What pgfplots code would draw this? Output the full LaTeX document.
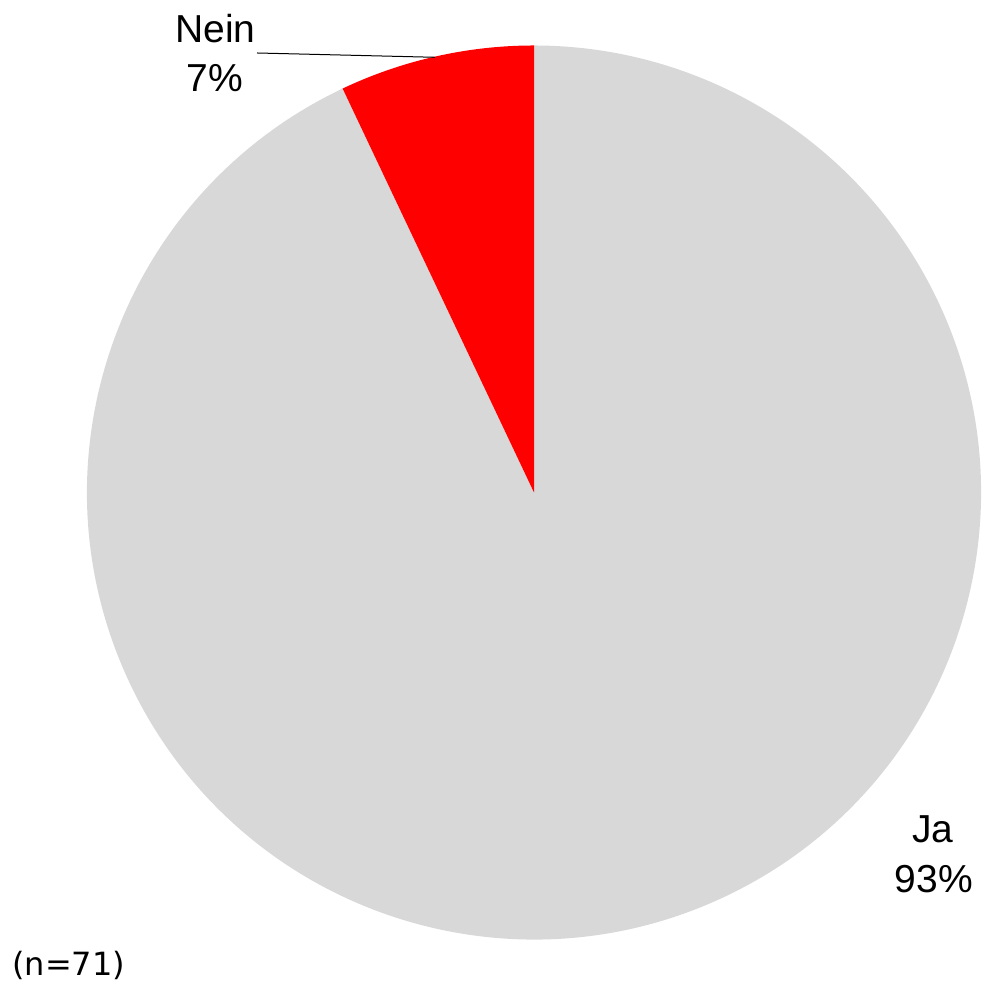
\documentclass[border=0pt]{standalone}
\usepackage{pgfplots}
\pgfplotsset{compat=1.18}
\usepackage{pgfplotstable}
\usepackage{fontspec}
\setmainfont{Liberation Sans}
\newfontfamily\nfont{DejaVu Sans}
\definecolor{pgray}{RGB}{216,216,216}
\definecolor{pred}{RGB}{255,0,0}
\pgfplotstableread{
label value
Ja 66
Nein 5
}\piedata
\begin{document}
\begin{tikzpicture}
\pgfplotstablegetelem{0}{value}\of\piedata \let\vJa\pgfplotsretval
\pgfplotstablegetelem{1}{value}\of\piedata \let\vNein\pgfplotsretval
\pgfmathsetmacro\total{\vJa+\vNein}
\pgfmathsetmacro\angNein{90+360*\vNein/\total}
\begin{axis}[
  at={(0,0)}, anchor=south west,
  scale only axis, width=491.5bp, height=491.5bp,
  xmin=0, xmax=983, ymin=0, ymax=983,
  hide axis, clip=false,
]
% Ja slice
\fill[pgray] (axis cs:534,490.5) -- ++(\angNein:223.5bp) arc[start angle=\angNein, end angle=450, radius=223.5bp] -- cycle;
% Nein slice
\fill[pred] (axis cs:534,490.5) -- ++(90:223.5bp) arc[start angle=90, end angle=\angNein, radius=223.5bp] -- cycle;
% leader line
\draw[black, line width=0.5bp] (axis cs:257,930) -- (axis cs:435,925.7);
% labels
\node[anchor=base, font=\fontsize{19.5bp}{23bp}\selectfont, inner sep=0pt] at (axis cs:215.5,940) {Nein};
\node[anchor=base, font=\fontsize{19.5bp}{23bp}\selectfont, inner sep=0pt] at (axis cs:215,891) {7\%};
\node[anchor=base, font=\fontsize{19.5bp}{23bp}\selectfont, inner sep=0pt] at (axis cs:933,140) {Ja};
\node[anchor=base, font=\fontsize{19.5bp}{23bp}\selectfont, inner sep=0pt] at (axis cs:934,90) {93\%};
\node[anchor=base west, font=\nfont\fontsize{16bp}{19bp}\selectfont, inner sep=0pt] at (axis cs:12,7) {(n=71)};
\end{axis}
\pgfresetboundingbox
\path[use as bounding box] (0,0) rectangle (491.5bp,491.5bp);
\end{tikzpicture}
\end{document}
